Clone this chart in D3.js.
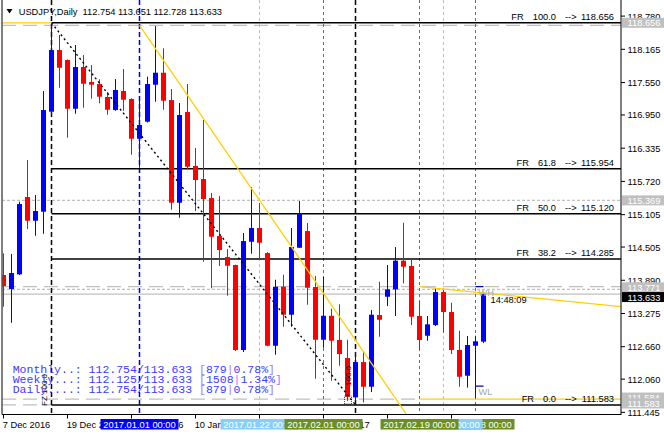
<!DOCTYPE html>
<html><head><meta charset="utf-8">
<script src="https://cdn.jsdelivr.net/npm/d3@7"></script>
<style>
body{margin:0;background:#fff;}
svg{display:block;}
text{font-family:"Liberation Sans",Arial,sans-serif;font-size:9.3px;white-space:pre;}
.mono{font-family:"Liberation Mono","Courier New",monospace;font-size:11.5px;}
</style></head><body>
<svg id="c" width="664" height="436"></svg>
<script>
// ---------- DATA ----------
const symbolTitle = "USDJPY,Daily";
const open  = [113.987,113.728,114.000,115.431,114.992,115.159,117.010,118.152,117.967,117.065,117.837,117.560,117.523,117.282,117.041,117.393,117.245,116.510,116.825,117.510,117.732,117.226,115.325,117.004,116.005,115.764,115.412,114.709,114.320,114.172,112.599,114.603,114.857,114.394,112.678,113.770,113.252,114.492,114.801,113.765,112.789,113.233,112.784,112.450,111.723,112.376,111.919,113.246,113.585,113.722,114.252,114.154,113.228,112.863,113.061,113.672,113.302,112.599,112.123,112.678,112.754];
const high  = [114.389,114.376,115.344,116.116,115.468,117.393,118.656,118.430,117.980,118.245,118.059,117.874,117.610,117.375,117.615,117.800,117.260,117.245,117.658,118.596,118.184,117.430,117.171,117.523,116.338,116.856,115.505,115.449,114.468,114.180,114.764,115.616,115.320,114.412,113.900,113.992,114.857,115.357,114.950,113.968,113.955,113.363,113.445,112.789,112.562,112.567,113.339,113.863,114.172,114.505,114.955,114.296,113.506,113.228,113.741,113.709,113.474,112.956,112.858,112.863,113.651];
const low   = [113.400,113.104,113.987,114.838,114.714,114.751,116.950,117.454,116.529,116.973,117.084,117.251,117.165,116.954,117.028,117.028,116.214,115.973,116.810,117.195,117.047,115.196,115.048,115.944,115.172,114.233,113.741,114.154,113.604,112.580,112.562,114.381,114.270,112.670,112.512,113.030,113.030,114.490,113.437,112.067,112.641,112.030,112.308,111.654,111.583,111.630,111.821,112.845,113.413,113.228,113.833,113.061,112.611,112.771,113.043,112.919,112.524,111.919,111.904,111.690,112.728];
const close = [113.783,114.024,115.301,114.992,115.172,117.041,118.152,117.824,117.065,117.837,117.528,117.510,117.288,117.047,117.412,117.232,116.510,116.764,117.523,117.732,117.214,115.325,116.949,115.992,115.746,115.394,114.696,114.450,114.159,112.599,114.616,114.857,114.585,112.678,113.770,113.252,114.505,115.135,113.752,112.789,113.233,112.771,112.524,111.734,112.376,111.919,113.252,113.159,113.722,114.252,114.141,113.215,112.784,113.074,113.672,113.302,112.599,112.104,112.691,112.760,113.633];

const priceTicks = [118.780,118.165,117.550,116.950,116.335,115.720,115.105,114.505,113.890,113.275,112.660,112.060,111.445];
const dateTickBars = [0,8,16,24,32,40,48,56];
const dateTickLabels = ["7 Dec 2016","19 Dec 2016","29 Dec 2016","10 Jan 2017","20 Jan 2017","1 Feb 2017","13 Feb 2017","23 Feb 2017"];

const fibLevels = ["100.0","61.8","50.0","38.2","0.0"];
const fibPrices = [118.656,115.954,115.120,114.285,111.583];
const fibStartBar = 6, fibEndBar = 44;

const sepBars   = [6,17,32,40,44,52,55,59];
const sepKinds  = ["fibo","year","week","month","fibo","month","week","month"];
const sepLabelBars = [17,32,40,59,55,52];
const sepLabels    = ["2017.01.01 00:00","2017.01.22 00:00","2017.02.01 00:00","2017.02.28 00:00","2017.02.22 00:00","2017.02.19 00:00"];
const sepLabelKinds= ["year","week","month","month","week","month"];

const greyLevels = [118.610,115.369,113.771,113.720,113.633,111.690,111.583];
const greyKinds  = ["long","short","long","short","solid","long","long"];
const greyEndBar = [null,null,null,null,null,52,6];

const yellowLines = [
  [[-1,118.656],[6,118.656]],
  [[17,118.610],[50.5,111.380]],
  [[52,113.771],[77.3,113.400]],
  [[52,111.690],[77.3,111.690]]
];

const tagValues = [118.656,115.369,113.771,113.633,111.584,111.583];
const tagKinds  = ["grey","grey","grey","bid","grey","grey"];

const weekHigh = 113.771, weekLow = 111.932, weekBar = 59;
const timerText = "14:48:09";

const legendNames = ["Monthly..:","Weekly...:","Daily....:"];
const legendFrom  = ["112.754","112.125","112.754"];
const legendTo    = ["113.633","113.633","113.633"];
const legendPts   = ["879","1508","879"];
const legendPct   = ["0.78%","1.34%","0.78%"];

// ---------- SCALES ----------
const N = open.length;
const x = d3.scaleLinear().domain([0, N-1]).range([3.5, 483.5]);
const y = d3.scaleLinear().domain([111.583, 118.656]).range([404.9, 22.8]);
const PL = 2, PR = 621, PB = 414.5;

const svg = d3.select('#c');
svg.append('rect').attr('width',664).attr('height',436).attr('fill','#fff');
const defs = svg.append('defs');
defs.append('clipPath').attr('id','pc')
  .append('rect').attr('x',PL+0.5).attr('y',0).attr('width',PR-PL-0.5).attr('height',PB);
const g = svg.append('g').attr('clip-path','url(#pc)');

// grey horizontal lines
const dashMap = {long:"14,7", short:"3,2", solid:null};
greyLevels.forEach((v,i)=>{
  const x1 = greyEndBar[i]==null ? PR : x(greyEndBar[i]);
  g.append('line').attr('x1',PL).attr('x2',x1)
    .attr('y1',y(v)).attr('y2',y(v))
    .attr('stroke','#c0c0c0').attr('stroke-width',1.2)
    .attr('stroke-dasharray',dashMap[greyKinds[i]]);
});

// vertical separators
const sepStyle = {
  fibo:{c:'#000',w:1.5,d:'5,3'},
  year:{c:'#0000cc',w:1.5,d:'5,3'},
  week:{c:'#87cefa',w:1,d:'3,3'},
  month:{c:'#6b7a2a',w:1,d:'3,3'}
};
sepBars.forEach((b,i)=>{
  const s = sepStyle[sepKinds[i]];
  g.append('line').attr('x1',x(b)).attr('x2',x(b)).attr('y1',0).attr('y2',PB)
    .attr('stroke',s.c).attr('stroke-width',s.w).attr('stroke-dasharray',s.d);
});

// Fibo levels
fibPrices.forEach((p,i)=>{
  g.append('line').attr('x1',x(fibStartBar)).attr('x2',PR)
   .attr('y1',y(p)).attr('y2',y(p)).attr('stroke','#000').attr('stroke-width',1.5);
});

// candles
const bars = d3.range(N).map(i=>({i,o:open[i],h:high[i],l:low[i],c:close[i]}));
const cg = g.append('g');
cg.selectAll('rect.w').data(bars).join('rect')
  .attr('x',d=>x(d.i)-0.5).attr('width',1)
  .attr('y',d=>y(d.h)).attr('height',d=>Math.max(1,y(d.l)-y(d.h)))
  .attr('fill',d=>d.c>=d.o?'#0000ff':'#ff0000');
cg.selectAll('rect.b').data(bars).join('rect')
  .attr('x',d=>x(d.i)-2.5).attr('width',5)
  .attr('y',d=>y(Math.max(d.o,d.c))).attr('height',d=>Math.max(1.5,Math.abs(y(d.o)-y(d.c))))
  .attr('fill',d=>d.c>=d.o?'#0000ff':'#ff0000');

// dotted fibo trend
g.append('line').attr('x1',x(fibStartBar)).attr('y1',y(high[fibStartBar]))
  .attr('x2',x(fibEndBar)).attr('y2',y(low[fibEndBar]))
  .attr('stroke','#000').attr('stroke-width',1.4).attr('stroke-dasharray','2,3');

// yellow lines
yellowLines.forEach(seg=>{
  g.append('line').attr('x1',x(seg[0][0])).attr('y1',y(seg[0][1]))
   .attr('x2',x(seg[1][0])).attr('y2',y(seg[1][1]))
   .attr('stroke','#ffd000').attr('stroke-width',1.3);
});

// WH / WL marks
[weekHigh, weekLow].forEach(v=>{
  g.append('line').attr('x1',x(weekBar)).attr('x2',x(weekBar+1)).attr('y1',y(v)).attr('y2',y(v))
   .attr('stroke','#0000cc').attr('stroke-width',1.3);
});
g.append('text').attr('x',x(weekBar)+3).attr('y',y(weekHigh)+9).attr('fill','#a8a8a8').text('WH');
g.append('text').attr('x',x(weekBar)+3).attr('y',y(weekLow)+9).attr('fill','#a8a8a8').text('WL');
g.append('text').attr('x',x(N-1)+7).attr('y',y(close[N-1])+9).attr('fill','#000').text(timerText);

// Fibo time-zone labels
g.append('text').attr('transform',`translate(${x(fibStartBar)-5},406) rotate(-90)`).style('font-size','8px').text('FZ 100.0');
g.append('text').attr('transform',`translate(${x(fibEndBar-1)+3},386) rotate(-90)`).style('font-size','8px').text('100.0');
g.append('rect').attr('x',x(fibEndBar-1)-3).attr('y',396).attr('width',7).attr('height',8)
  .attr('fill','none').attr('stroke','#000').attr('stroke-width',0.7).attr('stroke-dasharray','1,1');

// Fibo labels
fibPrices.forEach((p,i)=>{
  const yy = y(p)-3;
  svg.append('text').attr('x',614).attr('y',yy).attr('text-anchor','end').text(p.toFixed(3));
  svg.append('text').attr('x',565).attr('y',yy).text('-->');
  const lt = svg.append('text').attr('x',556).attr('y',yy).attr('text-anchor','end').text(fibLevels[i]);
  const w = lt.node().getComputedTextLength();
  svg.append('text').attr('x',556-w-9).attr('y',yy).attr('text-anchor','end').text('FR');
});

// Header
svg.append('path').attr('d','M6.5,9 L12.5,9 L9.5,13.5 Z').attr('fill','#000');
svg.append('text').attr('x',18.7).attr('y',15).attr('fill','#000')
  .text(`${symbolTitle}  ${open[N-1].toFixed(3)} ${high[N-1].toFixed(3)} ${low[N-1].toFixed(3)} ${close[N-1].toFixed(3)}`);

// Legend
legendNames.forEach((nm,i)=>{
  const t = svg.append('text').attr('class','mono').attr('x',12.7).attr('y',372.5+i*10).attr('fill','#3b3bff');
  t.append('tspan').text(`${nm} ${legendFrom[i]}/${legendTo[i]} `);
  t.append('tspan').attr('fill','#a27cff').text('[');
  t.append('tspan').text(legendPts[i]);
  t.append('tspan').attr('fill','#a27cff').text('|');
  t.append('tspan').text(legendPct[i]);
  t.append('tspan').attr('fill','#a27cff').text(']');
});

// Frame / axes
svg.append('line').attr('x1',PL).attr('x2',PL).attr('y1',0).attr('y2',PB).attr('stroke','#000');
svg.append('line').attr('x1',PR).attr('x2',PR).attr('y1',0).attr('y2',PB+0.5).attr('stroke','#000');
svg.append('line').attr('x1',PL).attr('x2',PR).attr('y1',PB).attr('y2',PB).attr('stroke','#000');

// right axis ticks
priceTicks.forEach(v=>{
  svg.append('line').attr('x1',PR).attr('x2',PR+4).attr('y1',y(v)).attr('y2',y(v)).attr('stroke','#000');
  svg.append('text').attr('x',627.5).attr('y',y(v)+3.5).attr('fill','#000').text(v.toFixed(3));
});

// separator label boxes (extent) – used to hide date labels fully covered by them
const boxW = 78;
const boxSpans = sepLabelBars.map(b=>[x(b)-boxW/2, x(b)+boxW/2]);

// bottom axis
dateTickBars.forEach((b,i)=>{
  svg.append('line').attr('x1',x(b)).attr('x2',x(b)).attr('y1',PB).attr('y2',PB+4).attr('stroke','#000');
  const t = svg.append('text').attr('x',x(b)-0.8).attr('y',427.5).attr('fill','#000').text(dateTickLabels[i]);
  const w = t.node().getComputedTextLength();
  const x0 = x(b)-0.8, x1 = x0+w;
  // union coverage test
  let covered = true;
  for (let px = x0+0.5; px < x1; px += 1) {
    if (!boxSpans.some(s=>px>=s[0] && px<=s[1])) { covered = false; break; }
  }
  if (covered) t.remove();
});

// separator time labels
const boxFill = {year:'#0000ff', week:'#87cefa', month:'#6b8e23'};
sepLabelBars.forEach((b,i)=>{
  const cx = x(b);
  svg.append('rect').attr('x',cx-boxW/2).attr('y',419).attr('width',boxW).attr('height',10.5).attr('fill',boxFill[sepLabelKinds[i]]);
  svg.append('text').attr('x',cx).attr('y',427.5).attr('text-anchor','middle').attr('fill','#fff').text(sepLabels[i]);
});

// price tags on right axis
const tagOffset = [0,0,0.6,2.9,-7.3,-1.4];
tagValues.forEach((v,i)=>{
  const cy = y(v)+tagOffset[i];
  svg.append('rect').attr('x',622).attr('y',cy-5).attr('width',42).attr('height',10)
    .attr('fill',tagKinds[i]==='bid'?'#000':'#c0c0c0');
  svg.append('text').attr('x',627.5).attr('y',cy+3.5).attr('fill','#fff').text(v.toFixed(3));
});
</script>
</body></html>
